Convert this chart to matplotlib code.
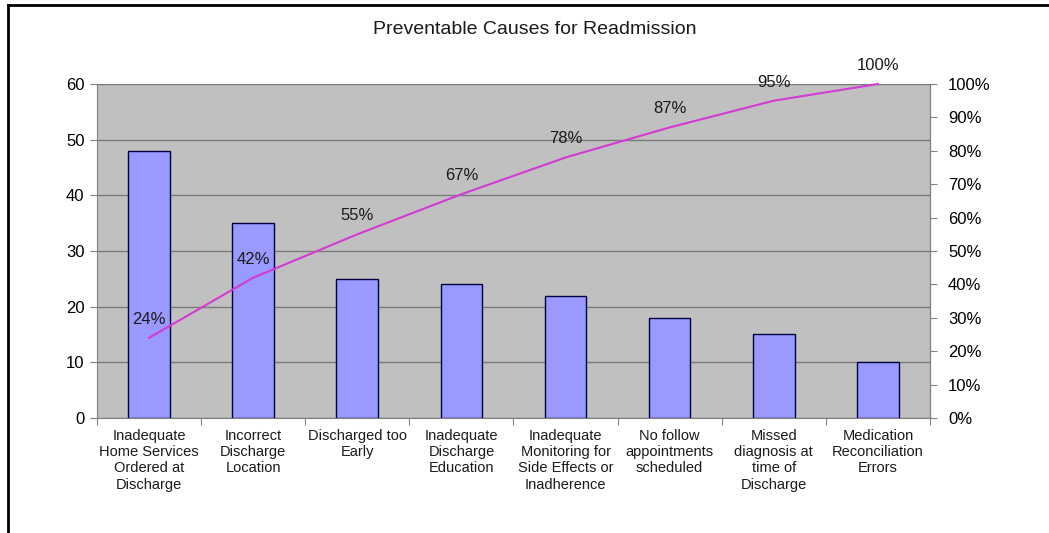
import matplotlib
matplotlib.use("Agg")
import matplotlib.pyplot as plt
from matplotlib.lines import Line2D
from matplotlib.ticker import FixedLocator, NullFormatter

plt.rcParams['font.family'] = ['Liberation Sans', 'DejaVu Sans']

categories = [
    "Inadequate\nHome Services\nOrdered at\nDischarge",
    "Incorrect\nDischarge\nLocation",
    "Discharged too\nEarly",
    "Inadequate\nDischarge\nEducation",
    "Inadequate\nMonitoring for\nSide Effects or\nInadherence",
    "No follow\nappointments\nscheduled",
    "Missed\ndiagnosis at\ntime of\nDischarge",
    "Medication\nReconciliation\nErrors",
]
counts = [48, 35, 25, 24, 22, 18, 15, 10]
cum_pct = [24, 42, 55, 67, 78, 87, 95, 100]
left_ticks = [0, 10, 20, 30, 40, 50, 60]
right_ticks = [0, 10, 20, 30, 40, 50, 60, 70, 80, 90, 100]

fig = plt.figure(figsize=(10.49, 5.33), dpi=100)
ax = fig.add_axes([0.0925, 0.2158, 0.794, 0.6266])
ax.set_facecolor('#c0c0c0')

x = list(range(len(categories)))
ax.bar(x, counts, width=0.4, color='#9999ff', edgecolor='#000040', linewidth=1.0, zorder=3)
ax.set_xlim(-0.5, len(categories) - 0.5)
ax.set_ylim(0, 60)
ax.set_yticks(left_ticks)
ax.yaxis.grid(True, color='#7a7a7a', linewidth=1.0, zorder=1)
ax.set_axisbelow(True)
ax.tick_params(axis='y', length=5, color='#808080', labelsize=12, pad=4, direction='out')

ax.xaxis.set_major_locator(FixedLocator([i - 0.5 for i in range(len(categories) + 1)]))
ax.xaxis.set_major_formatter(NullFormatter())
ax.xaxis.set_minor_locator(FixedLocator(x))
ax.set_xticklabels(categories, minor=True, fontsize=10.5, linespacing=1.2, color='#1a1a1a')
ax.tick_params(axis='x', which='major', length=5, color='#808080', direction='out')
ax.tick_params(axis='x', which='minor', length=0, pad=8)

for s in ['left', 'bottom', 'right']:
    ax.spines[s].set_color('#808080')
ax.spines['top'].set_visible(False)

ax2 = ax.twinx()
ax2.plot(x, cum_pct, color='#d43ad4', linewidth=1.5, zorder=4, clip_on=False)
ax2.set_ylim(0, 100)
ax2.set_yticks(right_ticks)
ax2.set_yticklabels([f"{v}%" for v in right_ticks])
ax2.tick_params(axis='y', length=5, color='#808080', labelsize=12, pad=8, direction='out')
for s in ['left', 'bottom', 'top']:
    ax2.spines[s].set_visible(False)
ax2.spines['right'].set_color('#808080')

for xi, p in zip(x, cum_pct):
    ax2.annotate(f"{p}%", (xi, p), xytext=(0, 8), textcoords='offset points',
                 ha='center', va='bottom', fontsize=12, color='#1a1a1a',
                 annotation_clip=False)

fig.text(0.51, 0.944, "Preventable Causes for Readmission", ha='center', va='center',
         fontsize=14, color='#1a1a1a')

fig.add_artist(Line2D([8 / 1049, 1.0], [1 - 5 / 533, 1 - 5 / 533], transform=fig.transFigure,
                      color='black', linewidth=2))
fig.add_artist(Line2D([8 / 1049, 8 / 1049], [0, 1 - 5 / 533], transform=fig.transFigure,
                      color='black', linewidth=2))

fig.savefig("out.png", dpi=100)
